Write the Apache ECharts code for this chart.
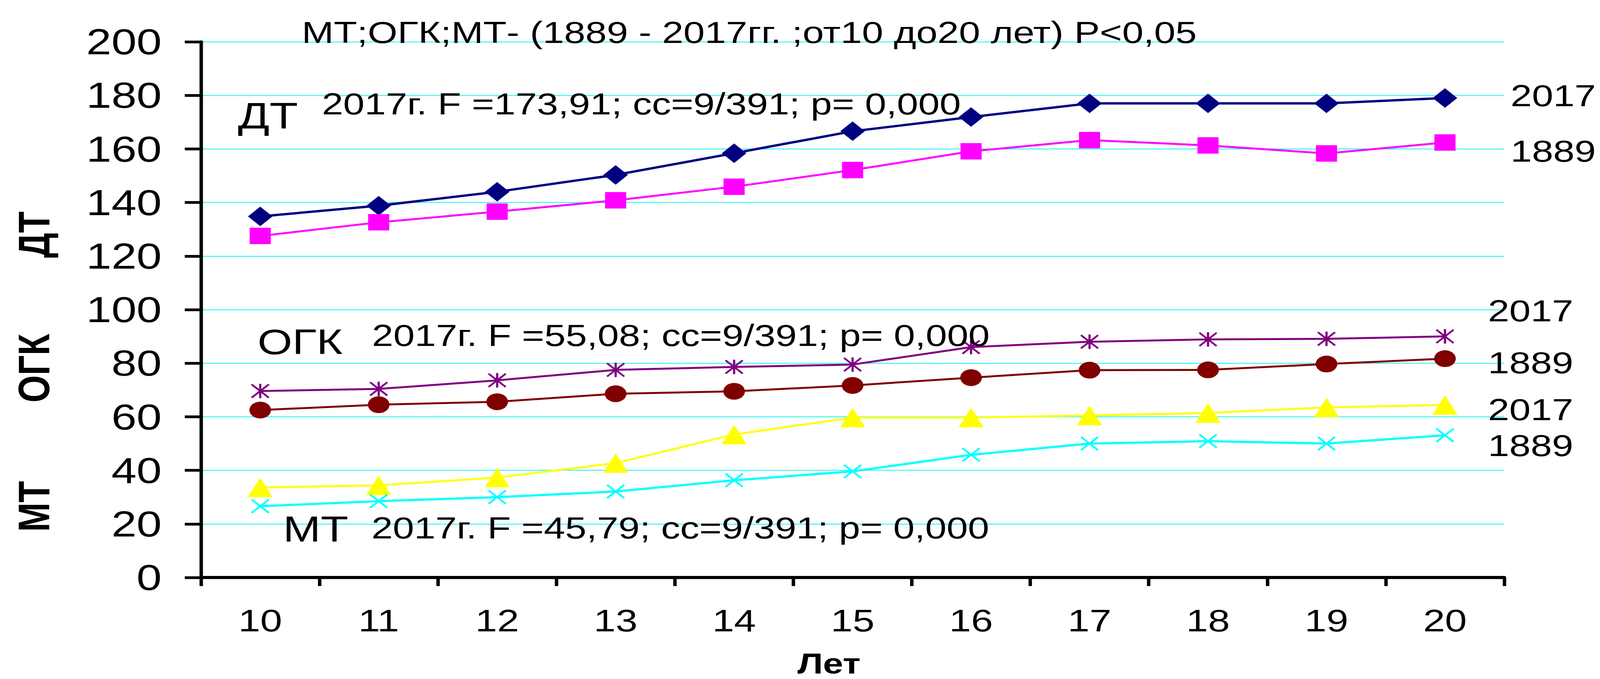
<!DOCTYPE html>
<html>
<head>
<meta charset="utf-8">
<script src="https://cdn.jsdelivr.net/npm/echarts@6/dist/echarts.min.js"></script>
<style>
html,body{margin:0;padding:0;width:100%;height:100%;background:#fff;overflow:hidden;}
#c{position:absolute;left:0;top:0;width:3256px;height:1739px;transform-origin:0 0;}
</style>
</head>
<body>
<div id="c"></div>
<script>
// ---- data ----
const categories = ['10','11','12','13','14','15','16','17','18','19','20'];
const dt2017  = [134.8, 138.8, 144.0, 150.3, 158.4, 166.6, 171.9, 177.0, 177.0, 177.0, 179.0];
const dt1889  = [127.5, 132.6, 136.6, 140.8, 145.9, 152.1, 159.1, 163.3, 161.3, 158.3, 162.4];
const ogk2017 = [69.6, 70.4, 73.6, 77.5, 78.6, 79.5, 86.0, 88.0, 88.9, 89.1, 90.0];
const ogk1889 = [62.5, 64.5, 65.6, 68.6, 69.5, 71.7, 74.6, 77.4, 77.5, 79.7, 81.7];
const mt2017  = [33.6, 34.4, 37.3, 42.7, 53.4, 59.7, 59.7, 60.5, 61.4, 63.5, 64.4];
const mt1889  = [26.6, 28.5, 30.0, 32.1, 36.3, 39.6, 45.8, 50.0, 50.9, 50.0, 53.1];
const yMin = 0, yMax = 200, yStep = 20;
const titleText = 'МТ;ОГК;МТ- (1889 - 2017гг. ;от10 до20 лет) Р<0,05';
const groupNames = ['ДТ', 'ОГК', 'МТ'];
const statTexts = [
  '2017г. F =173,91; сс=9/391; р= 0,000',
  '2017г. F =55,08; сс=9/391; р= 0,000',
  '2017г. F =45,79; сс=9/391; р= 0,000'
];
const yearLabels = ['2017', '1889', '2017', '1889', '2017', '1889'];
const xAxisTitle = 'Лет';

// ---- page fit: design space 4656x1739, drawn in a 3256-wide box stretched horizontally ----
const DESIGN_W = 4656, DESIGN_H = 1739, STRETCH = 1.43;
const el = document.getElementById('c');
function fit() {
  const sx = window.innerWidth / DESIGN_W;
  const sy = window.innerHeight / DESIGN_H;
  el.style.transform = 'scale(' + (STRETCH * sx) + ',' + sy + ')';
}
fit();

// ---- styling / layout ----
const FONT = '"Liberation Sans", Arial, sans-serif';
const ASTERISK = 'path://M44,0L56,0L56,100L44,100Z M8,0L100,92L92,100L0,8Z M92,0L100,8L8,100L0,92Z';
const CROSS = 'path://M8,0L100,92L92,100L0,8Z M92,0L100,8L8,100L0,92Z';

function lineSeries(name, data, color, symbol, size, width) {
  return {
    name: name, type: 'line', data: data,
    symbol: symbol, symbolSize: size, showAllSymbol: true,
    lineStyle: { color: color, width: width },
    itemStyle: { color: color, borderWidth: 0 },
    emphasis: { disabled: true },
    z: 3
  };
}

function txt(text, x, y, fs, opts) {
  opts = opts || {};
  return {
    type: 'text', x: x, y: y, z: 100,
    rotation: opts.rotation || 0,
    silent: true,
    style: {
      text: text, fill: '#000',
      font: (opts.bold ? 'bold ' : '') + fs + 'px ' + FONT,
      fontSize: fs, fontFamily: FONT, fontWeight: opts.bold ? 'bold' : 'normal',
      align: opts.align || 'left', textAlign: opts.align || 'left',
      verticalAlign: 'middle', textVerticalAlign: 'middle'
    }
  };
}

const graphics = [
  txt(titleText, 614, 83, 78),
  txt(groupNames[0], 484, 296, 95),
  txt(statTexts[0], 655, 266, 78),
  txt(groupNames[1], 524, 875, 91),
  txt(statTexts[1], 757, 859, 78),
  txt(groupNames[2], 576, 1355, 92),
  txt(statTexts[2], 756, 1352, 78),
  txt(yearLabels[0], 3074, 245, 78),
  txt(yearLabels[1], 3074, 387, 78),
  txt(yearLabels[2], 3028, 796, 78),
  txt(yearLabels[3], 3028, 929, 78),
  txt(yearLabels[4], 3028, 1049, 78),
  txt(yearLabels[5], 3028, 1141, 78),
  txt(groupNames[0], 69, 601, 90, {bold: true, rotation: Math.PI / 2, align: 'center'}),
  txt(groupNames[1], 69, 943, 90, {bold: true, rotation: Math.PI / 2, align: 'center'}),
  txt(groupNames[2], 69, 1297, 90, {bold: true, rotation: Math.PI / 2, align: 'center'}),
  txt(xAxisTitle, 1687, 1699, 74, {bold: true, align: 'center'})
];

const chart = echarts.init(el, null, { renderer: 'svg', width: 3256, height: 1739 });
chart.setOption({
  animation: false,
  backgroundColor: '#fff',
  grid: { left: 409, right: 195, top: 107, bottom: 260, containLabel: false, outerBoundsMode: 'none' },
  xAxis: {
    type: 'category', data: categories, boundaryGap: true,
    axisLine: { show: true, lineStyle: { color: '#000', width: 8 } },
    axisTick: { show: true, alignWithLabel: false, length: 22, inside: false, lineStyle: { color: '#000', width: 7 } },
    axisLabel: { show: true, color: '#000', fontSize: 80, fontFamily: FONT, margin: 70 },
    splitLine: { show: false }
  },
  yAxis: {
    type: 'value', min: yMin, max: yMax, interval: yStep,
    axisLine: { show: true, lineStyle: { color: '#000', width: 7 } },
    axisTick: { show: true, length: 33, inside: false, lineStyle: { color: '#000', width: 7 } },
    axisLabel: { show: true, color: '#000', fontSize: 92, fontFamily: FONT, margin: 80 },
    splitLine: { show: true, lineStyle: { color: '#40F4F4', width: 2.5 } }
  },
  series: [
    lineSeries('ДТ 2017', dt2017, '#000080', 'diamond', [50, 50], 6),
    lineSeries('ДТ 1889', dt1889, '#FF00FF', 'rect', [43, 42], 5),
    lineSeries('ОГК 2017', ogk2017, '#800080', ASTERISK, [38, 37], 5),
    lineSeries('ОГК 1889', ogk1889, '#800000', 'circle', [44, 43], 5),
    lineSeries('МТ 2017', mt2017, '#FFFF00', 'triangle', [51, 50], 5),
    lineSeries('МТ 1889', mt1889, '#00FFFF', CROSS, [38, 37], 5.5)
  ],
  graphic: { elements: graphics }
});
window.addEventListener('resize', fit);
</script>
</body>
</html>
